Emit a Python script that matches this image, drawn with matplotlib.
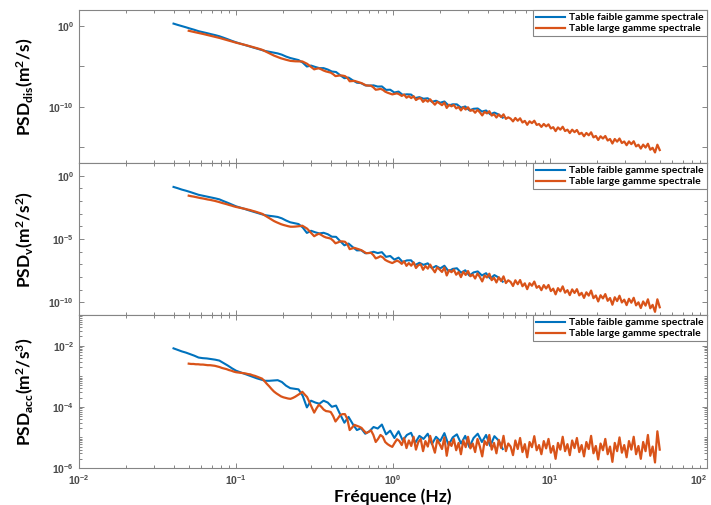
import numpy as np
import matplotlib
matplotlib.use("Agg")
import matplotlib.pyplot as plt
from matplotlib.ticker import FixedLocator, FuncFormatter, NullFormatter, LogLocator

plt.rcParams['font.family'] = ['Lato', 'DejaVu Sans']
plt.rcParams['mathtext.fontset'] = 'custom'
plt.rcParams['mathtext.bf'] = 'Lato:bold'
plt.rcParams['mathtext.rm'] = 'Lato:bold'
plt.rcParams['mathtext.sf'] = 'Liberation Sans:bold'
plt.rcParams['mathtext.default'] = 'bf'

# frequency bins (Hz) of the two tables
freq_faible = np.geomspace(0.04, 5, 80)
freq_large = np.geomspace(0.05, 50, 200)

# log10 of the PSD values
dis_faible = [0.31, 0.15, 0.00, -0.15, -0.31, -0.46, -0.63, -0.75, -0.87, -1.00,
              -1.12, -1.26, -1.44, -1.63, -1.83, -2.01, -2.17, -2.33, -2.48, -2.64,
              -2.79, -2.94, -3.09, -3.19, -3.29, -3.39, -3.55, -3.78, -3.96, -4.09,
              -4.22, -4.53, -5.02, -4.90, -5.07, -5.22, -5.22, -5.39, -5.64, -5.70,
              -6.10, -6.47, -6.39, -6.73, -7.03, -7.08, -7.36, -7.39, -7.36, -7.51,
              -7.49, -7.92, -7.90, -8.25, -8.13, -8.54, -8.47, -8.50, -8.94, -8.82,
              -9.02, -8.96, -9.40, -9.27, -9.52, -9.36, -9.86, -9.71, -9.72, -10.13,
              -9.98, -10.46, -10.27, -10.23, -10.61, -10.48, -10.95, -10.74, -10.98, -11.37]

vel_faible = [-0.89, -0.99, -1.10, -1.19, -1.29, -1.40, -1.51, -1.58, -1.65, -1.72,
              -1.79, -1.87, -2.01, -2.14, -2.28, -2.42, -2.52, -2.62, -2.73, -2.83,
              -2.93, -3.03, -3.12, -3.17, -3.21, -3.26, -3.37, -3.54, -3.68, -3.75,
              -3.82, -4.09, -4.52, -4.35, -4.47, -4.56, -4.51, -4.62, -4.82, -4.83,
              -5.17, -5.50, -5.36, -5.64, -5.90, -5.89, -6.12, -6.10, -6.01, -6.11,
              -6.04, -6.41, -6.34, -6.63, -6.47, -6.82, -6.69, -6.68, -7.06, -6.88,
              -7.04, -6.92, -7.31, -7.13, -7.32, -7.11, -7.55, -7.36, -7.31, -7.66,
              -7.47, -7.89, -7.64, -7.56, -7.88, -7.70, -8.12, -7.85, -8.04, -8.37]

acc_faible = [-2.09, -2.14, -2.19, -2.23, -2.28, -2.33, -2.39, -2.41, -2.42, -2.44,
              -2.46, -2.49, -2.57, -2.65, -2.74, -2.82, -2.87, -2.92, -2.97, -3.02,
              -3.07, -3.11, -3.15, -3.15, -3.14, -3.13, -3.19, -3.31, -3.39, -3.41,
              -3.43, -3.64, -4.02, -3.80, -3.86, -3.90, -3.80, -3.86, -4.00, -3.96,
              -4.25, -4.52, -4.33, -4.56, -4.76, -4.70, -4.88, -4.80, -4.66, -4.71,
              -4.58, -4.90, -4.78, -5.02, -4.80, -5.10, -4.92, -4.85, -5.18, -4.95,
              -5.05, -4.88, -5.22, -4.98, -5.12, -4.86, -5.25, -5.00, -4.90, -5.20,
              -4.95, -5.32, -5.02, -4.88, -5.15, -4.92, -5.28, -4.96, -5.10, -5.38]

dis_large = [-0.58, -0.65, -0.71, -0.78, -0.84, -0.91, -0.97, -1.04, -1.11, -1.17,
             -1.24, -1.31, -1.39, -1.47, -1.56, -1.64, -1.72, -1.81, -1.89, -1.98,
             -2.06, -2.13, -2.21, -2.28, -2.35, -2.43, -2.50, -2.59, -2.67, -2.76,
             -2.85, -2.94, -3.08, -3.23, -3.37, -3.52, -3.66, -3.78, -3.89, -4.00,
             -4.09, -4.17, -4.25, -4.32, -4.35, -4.37, -4.38, -4.39, -4.39, -4.54,
             -4.68, -4.91, -5.14, -5.37, -5.29, -5.24, -5.37, -5.52, -5.63, -5.70,
             -5.78, -5.97, -6.21, -6.17, -6.12, -6.15, -6.21, -6.43, -6.85, -6.83,
             -6.80, -6.89, -6.98, -7.08, -7.23, -7.37, -7.39, -7.40, -7.61, -7.90,
             -7.86, -7.79, -7.91, -8.14, -8.27, -8.38, -8.48, -8.41, -8.35, -8.48,
             -8.67, -8.50, -8.89, -8.70, -8.94, -8.70, -9.18, -8.99, -8.95, -9.41,
             -9.14, -9.38, -9.09, -9.45, -9.76, -9.40, -9.60, -9.82, -9.50, -10.16,
             -9.77, -9.96, -9.79, -10.22, -10.04, -10.47, -10.08, -10.36, -10.08, -10.52,
             -10.42, -10.76, -10.40, -10.71, -11.09, -10.65, -10.84, -10.57, -11.11, -10.95,
             -11.35, -10.97, -11.30, -10.96, -11.52, -11.33, -11.49, -11.83, -11.41, -11.75,
             -11.45, -11.97, -11.77, -12.26, -11.82, -12.05, -11.75, -12.27, -12.16, -12.52,
             -12.15, -12.45, -12.20, -12.71, -12.55, -13.04, -12.58, -12.86, -12.50, -13.03,
             -12.86, -13.28, -12.86, -13.17, -12.90, -13.42, -13.25, -13.68, -13.27, -13.56,
             -13.19, -13.82, -13.64, -14.14, -13.68, -13.96, -13.65, -14.21, -14.02, -14.58,
             -14.02, -14.35, -13.96, -14.52, -14.33, -14.79, -14.32, -14.66, -14.30, -14.94,
             -14.73, -15.21, -14.72, -15.08, -14.61, -15.35, -15.11, -15.69, -14.73, -15.39]

vel_large = [-1.58, -1.62, -1.65, -1.69, -1.73, -1.77, -1.80, -1.84, -1.88, -1.91,
             -1.95, -1.99, -2.04, -2.09, -2.15, -2.20, -2.25, -2.31, -2.36, -2.42,
             -2.47, -2.51, -2.55, -2.59, -2.63, -2.68, -2.72, -2.78, -2.83, -2.89,
             -2.95, -3.01, -3.12, -3.24, -3.35, -3.47, -3.58, -3.67, -3.75, -3.83,
             -3.89, -3.94, -3.99, -4.03, -4.03, -4.02, -4.00, -3.98, -3.95, -4.07,
             -4.18, -4.38, -4.58, -4.78, -4.67, -4.58, -4.68, -4.80, -4.88, -4.92,
             -4.97, -5.13, -5.34, -5.27, -5.19, -5.19, -5.22, -5.41, -5.80, -5.75,
             -5.70, -5.76, -5.82, -5.89, -6.01, -6.12, -6.11, -6.09, -6.27, -6.53,
             -6.46, -6.36, -6.45, -6.65, -6.75, -6.83, -6.90, -6.80, -6.71, -6.80,
             -6.96, -6.76, -7.12, -6.90, -7.11, -6.84, -7.29, -7.07, -7.00, -7.43,
             -7.13, -7.34, -7.02, -7.35, -7.63, -7.24, -7.41, -7.60, -7.25, -7.88,
             -7.46, -7.62, -7.42, -7.82, -7.61, -8.01, -7.59, -7.84, -7.53, -7.94,
             -7.81, -8.12, -7.72, -8.00, -8.35, -7.88, -8.04, -7.74, -8.25, -8.06,
             -8.43, -8.02, -8.32, -7.95, -8.48, -8.26, -8.39, -8.71, -8.26, -8.57,
             -8.24, -8.73, -8.50, -8.96, -8.49, -8.69, -8.36, -8.85, -8.71, -9.04,
             -8.64, -8.91, -8.63, -9.11, -8.92, -9.37, -8.88, -9.13, -8.74, -9.24,
             -9.04, -9.43, -8.98, -9.26, -8.96, -9.45, -9.25, -9.65, -9.21, -9.47,
             -9.07, -9.67, -9.46, -9.93, -9.44, -9.69, -9.35, -9.88, -9.66, -10.19,
             -9.60, -9.90, -9.48, -10.01, -9.79, -10.22, -9.72, -10.03, -9.64, -10.24,
             -10.00, -10.45, -9.93, -10.26, -9.76, -10.47, -10.20, -10.75, -9.76, -10.39]

acc_large = [-2.59, -2.60, -2.60, -2.61, -2.61, -2.62, -2.62, -2.63, -2.64, -2.64,
             -2.65, -2.66, -2.68, -2.70, -2.73, -2.75, -2.77, -2.80, -2.82, -2.85,
             -2.87, -2.88, -2.89, -2.90, -2.91, -2.93, -2.94, -2.97, -2.99, -3.02,
             -3.05, -3.08, -3.16, -3.25, -3.33, -3.42, -3.50, -3.56, -3.61, -3.66,
             -3.69, -3.71, -3.73, -3.74, -3.71, -3.67, -3.62, -3.57, -3.51, -3.60,
             -3.68, -3.85, -4.02, -4.19, -4.05, -3.93, -4.00, -4.09, -4.14, -4.15,
             -4.17, -4.30, -4.48, -4.38, -4.27, -4.24, -4.24, -4.40, -4.76, -4.68,
             -4.59, -4.62, -4.65, -4.69, -4.78, -4.86, -4.82, -4.77, -4.92, -5.15,
             -5.05, -4.92, -4.98, -5.15, -5.22, -5.27, -5.31, -5.18, -5.06, -5.12,
             -5.25, -5.02, -5.35, -5.10, -5.28, -4.98, -5.40, -5.15, -5.05, -5.45,
             -5.12, -5.30, -4.95, -5.25, -5.50, -5.08, -5.22, -5.38, -5.00, -5.60,
             -5.15, -5.28, -5.05, -5.42, -5.18, -5.55, -5.10, -5.32, -4.98, -5.36,
             -5.20, -5.48, -5.05, -5.30, -5.62, -5.12, -5.25, -4.92, -5.40, -5.18,
             -5.52, -5.08, -5.35, -4.95, -5.45, -5.20, -5.30, -5.58, -5.10, -5.38,
             -5.02, -5.48, -5.22, -5.65, -5.15, -5.32, -4.96, -5.42, -5.25, -5.55,
             -5.12, -5.36, -5.05, -5.50, -5.28, -5.70, -5.18, -5.40, -4.98, -5.45,
             -5.22, -5.58, -5.10, -5.35, -5.02, -5.48, -5.25, -5.62, -5.15, -5.38,
             -4.95, -5.52, -5.28, -5.72, -5.20, -5.42, -5.05, -5.55, -5.30, -5.80,
             -5.18, -5.45, -5.00, -5.50, -5.25, -5.65, -5.12, -5.40, -4.98, -5.55,
             -5.28, -5.70, -5.15, -5.45, -4.92, -5.60, -5.30, -5.82, -4.80, -5.40]

labels = ["Table faible gamme spectrale", "Table large gamme spectrale"]
ylabels = [r"PSD$_{dis}$(m$^{2}$/s)", r"PSD$_{v}$(m$^{2}$/s$^{2}$)", r"PSD$_{acc}$(m$^{2}$/s$^{3}$)"]
xticks = [1e-2, 1e-1, 1e0, 1e1, 1e2]

blue = "#0072BD"
orange = "#D95319"
grey = "#858585"
tickcol = "#4a4a4a"


def pow_fmt(shown):
    def f(v, pos):
        e = int(round(np.log10(v)))
        if shown is not None and e not in shown:
            return ""
        return r"$\mathsf{10^{%d}}$" % e
    return FuncFormatter(f)


fig = plt.figure(figsize=(7.11, 5.05), dpi=100)
L, W = 79 / 711, 628 / 711
rects = [[L, 1 - 163 / 505, W, 153 / 505],
         [L, 1 - 315 / 505, W, 152 / 505],
         [L, 1 - 468 / 505, W, 153 / 505]]

panels = [
    (dis_faible, dis_large, (1e-17, 1e2), [1e-15, 1e-10, 1e-5, 1e0], {0, -10}, None),
    (vel_faible, vel_large, (1e-11, 1e1), [1e-10, 1e-5, 1e0], None,
     [10.0 ** e for e in range(-11, 2)]),
    (acc_faible, acc_large, (1e-6, 1e-1), [1e-6, 1e-4, 1e-2], None, "log"),
]

for i, (yb, yo, ylim, major, shown, minor) in enumerate(panels):
    ax = fig.add_axes(rects[i])
    ax.plot(freq_faible, 10 ** np.array(yb), color=blue, lw=1.5, label=labels[0])
    ax.plot(freq_large, 10 ** np.array(yo), color=orange, lw=1.6, label=labels[1])
    ax.set_xscale("log")
    ax.set_yscale("log")
    ax.set_xlim(1e-2, 1e2)
    ax.set_ylim(*ylim)

    ax.xaxis.set_major_locator(FixedLocator(xticks))
    ax.xaxis.set_minor_locator(LogLocator(base=10, subs=np.arange(2, 10), numticks=20))
    ax.xaxis.set_minor_formatter(NullFormatter())
    if i == 2:
        ax.xaxis.set_major_formatter(pow_fmt(None))
    else:
        ax.xaxis.set_major_formatter(NullFormatter())

    ax.yaxis.set_major_locator(FixedLocator(major))
    ax.yaxis.set_major_formatter(pow_fmt(shown))
    if minor is None:
        ax.yaxis.set_minor_locator(FixedLocator([]))
    elif minor == "log":
        ax.yaxis.set_minor_locator(LogLocator(base=10, subs=np.arange(1, 10), numticks=20))
    else:
        ax.yaxis.set_minor_locator(FixedLocator(minor))
    ax.yaxis.set_minor_formatter(NullFormatter())

    ax.tick_params(which="both", direction="in", top=True, right=True,
                   color=grey, labelcolor=tickcol, labelsize=7.5, width=0.7)
    ax.tick_params(which="major", length=3.5)
    ax.tick_params(which="minor", length=2)
    for s in ax.spines.values():
        s.set_color(grey)
        s.set_linewidth(0.8)

    ax.set_ylabel(ylabels[i], fontsize=12.5, fontweight="bold", color="black")
    ax.yaxis.set_label_coords(-0.068, 0.5)

    leg = ax.legend(loc="upper right", bbox_to_anchor=(1, 1), borderaxespad=0,
                    fancybox=False, framealpha=1, edgecolor=grey,
                    prop={"weight": "bold", "size": 7.5}, handlelength=2.8,
                    labelspacing=0.15, borderpad=0.3, handletextpad=0.4)
    leg.get_frame().set_linewidth(0.8)

    if i == 2:
        ax.set_xlabel("Fréquence (Hz)", fontsize=12.5, fontweight="bold", labelpad=1)
        fig.canvas.draw()
        # keep the last tick label (10^2) inside the canvas
        ax.get_xticklabels()[-1].set_horizontalalignment("right")

fig.savefig("out.png", dpi=100)
